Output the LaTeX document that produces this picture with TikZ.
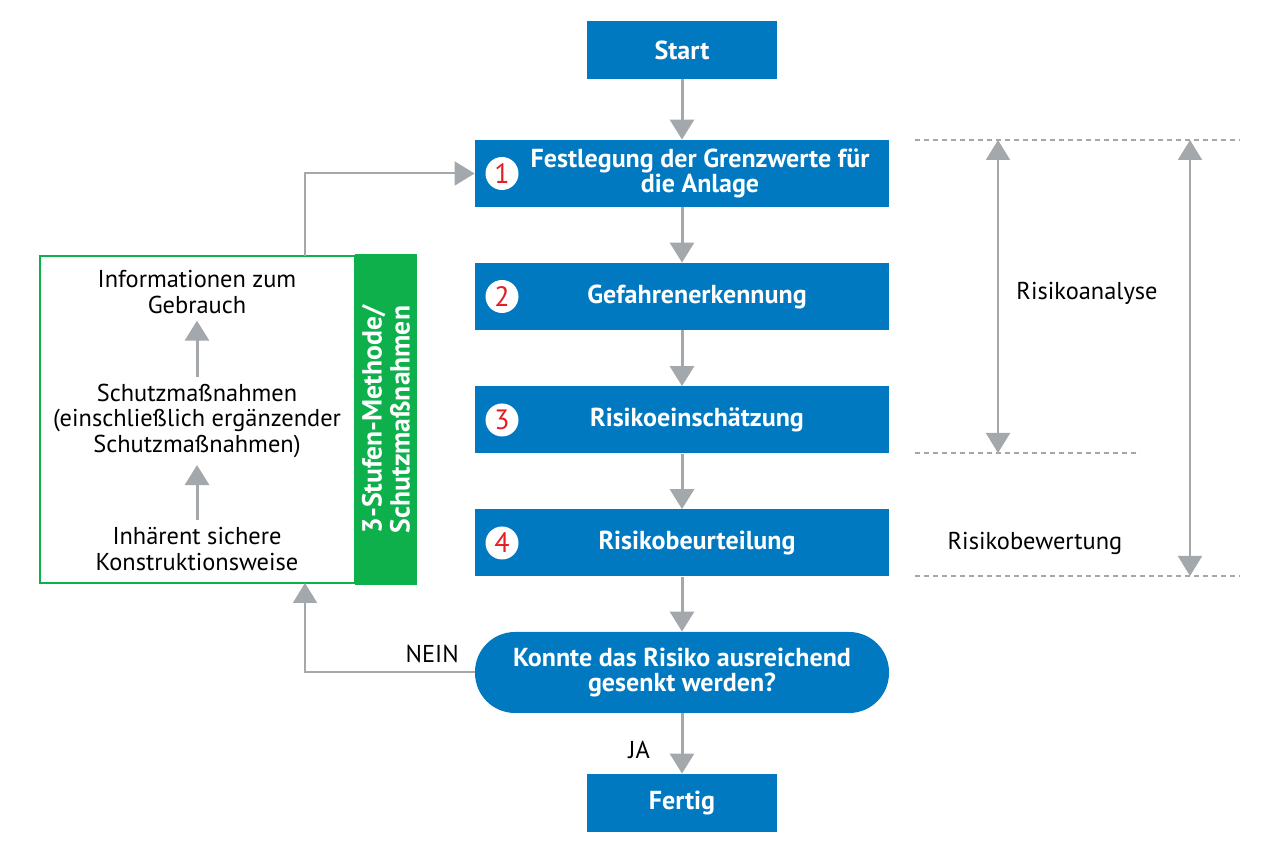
\documentclass[tikz,border=0pt]{standalone}
\usepackage{fontspec}
\setmainfont{PT Sans}
\usepackage{tikz}
\usetikzlibrary{arrows.meta,positioning,calc}
\definecolor{stepblue}{HTML}{0079C1}
\definecolor{barGreen}{HTML}{0DB04B}
\definecolor{flowgray}{HTML}{A3A8AD}
\definecolor{numred}{HTML}{E31E24}

\begin{document}
\begin{tikzpicture}[
    x=0.5pt, y=-0.5pt,
    stepbox/.style={fill=stepblue, minimum width=207pt, minimum height=33.5pt, inner sep=0pt},
    endbox/.style={fill=stepblue, minimum width=95pt, minimum height=29pt, inner sep=0pt,
      text=white, font=\fontsize{13}{13}\selectfont\bfseries},
    steptext/.style={text=white, align=center, font=\fontsize{13}{12.5}\selectfont\bfseries},
    decision/.style={fill=stepblue, rounded corners=20pt, minimum width=207pt, minimum height=40.5pt,
      text=white, align=center, font=\fontsize{13}{12.5}\selectfont\bfseries},
    numdot/.style={circle, fill=white, minimum size=16.5pt, inner sep=0pt, text=numred,
      font=\fontsize{14}{14}\selectfont},
    plain/.style={align=center, font=\fontsize{12.2}{12.8}\selectfont},
    flow/.style={draw=flowgray, line width=1.5pt, -{Triangle[width=12pt,length=10pt]}},
    both/.style={draw=flowgray, line width=1.5pt, {Triangle[width=12pt,length=10pt]}-{Triangle[width=12pt,length=10pt]}},
    limit/.style={draw=flowgray, line width=1pt, dash pattern=on 2.5pt off 2pt}
  ]
    \useasboundingbox (0,0) rectangle (1280,854);

    % main chain
    \node[endbox] (start) at (682,50) {Start};
    \node[stepbox] (s1) at (682,173.5) {};
    \node[stepbox] (s2) at (682,296.5) {};
    \node[stepbox] (s3) at (682,420) {};
    \node[stepbox] (s4) at (682,543) {};
    \node[decision] (decide) at (682,672.5) {Konnte das Risiko ausreichend\\gesenkt werden?};
    \node[endbox] (done) at (682,803) {Fertig};

    \node[steptext] (t1) at (700,173.5) {Festlegung der Grenzwerte für\\die Anlage};
    \node[steptext] (t2) at (697,296.5) {Gefahrenerkennung};
    \node[steptext] (t3) at (697,420) {Risikoeinschätzung};
    \node[steptext] (t4) at (697,543) {Risikobeurteilung};

    \node[numdot] (n1) at (502,173.5) {1};
    \node[numdot] (n2) at (502,296.5) {2};
    \node[numdot] (n3) at (502,420) {3};
    \node[numdot] (n4) at (502,543) {4};

    \draw[flow] (start) -- (s1);
    \draw[flow] (s1) -- (s2);
    \draw[flow] (s2) -- (s3);
    \draw[flow] (s3) -- (s4);
    \draw[flow] (s4) -- (decide);
    \draw[flow] (decide) -- node[plain, pos=0.6, left=12pt]{JA} (done);

    % measures box
    \node[draw=barGreen, line width=1pt, minimum width=157.5pt, minimum height=163.5pt, inner sep=0pt]
      (measures) at (197.5,419.5) {};
    \node[fill=barGreen, rotate=90, minimum width=165.5pt, minimum height=31pt, inner sep=0pt,
      text=white, align=center, font=\fontsize{13.8}{14}\selectfont\bfseries]
      (bar) at (386,419.5) {3-Stufen-Methode/\\Schutzmaßnahmen};
    \node[plain] (info) at (197,292) {Informationen zum\\Gebrauch};
    \node[plain] (protect) at (197,421) {Schutzmaßnahmen\\(einschließlich ergänzender\\Schutzmaßnahmen)};
    \node[plain] (inherent) at (197,549) {Inhärent sichere\\Konstruktionsweise};
    \draw[flow] (inherent) -- (protect);
    \draw[flow] (protect) -- (info);

    % loop back
    \coordinate (loopin) at (305,583);
    \coordinate (loopout) at (305,256);
    \draw[flow, line width=1pt] (decide.west) -| node[plain, pos=0.125, above=1pt]{NEIN} (loopin);
    \draw[flow, line width=1pt] (loopout) |- (s1.west);

    % analysis ranges
    \coordinate (topl) at (915,140);
    \coordinate (topr) at (1240,140);
    \coordinate (midl) at (915,453);
    \coordinate (midr) at (1140,453);
    \coordinate (botl) at (915,576);
    \coordinate (botr) at (1240,576);
    \draw[limit] (topl) -- (topr);
    \draw[limit] (midl) -- (midr);
    \draw[limit] (botl) -- (botr);
    \coordinate (a1) at (998,140);
    \coordinate (a2) at (998,453);
    \coordinate (b1) at (1190,140);
    \coordinate (b2) at (1190,576);
    \draw[both, line width=1pt] (a1) -- (a2);
    \draw[both, line width=1pt] (b1) -- (b2);
    \node[plain] (analyse) at (1087,293) {Risikoanalyse};
    \node[plain] (bewertung) at (1035,543) {Risikobewertung};
  \end{tikzpicture}
\end{document}
